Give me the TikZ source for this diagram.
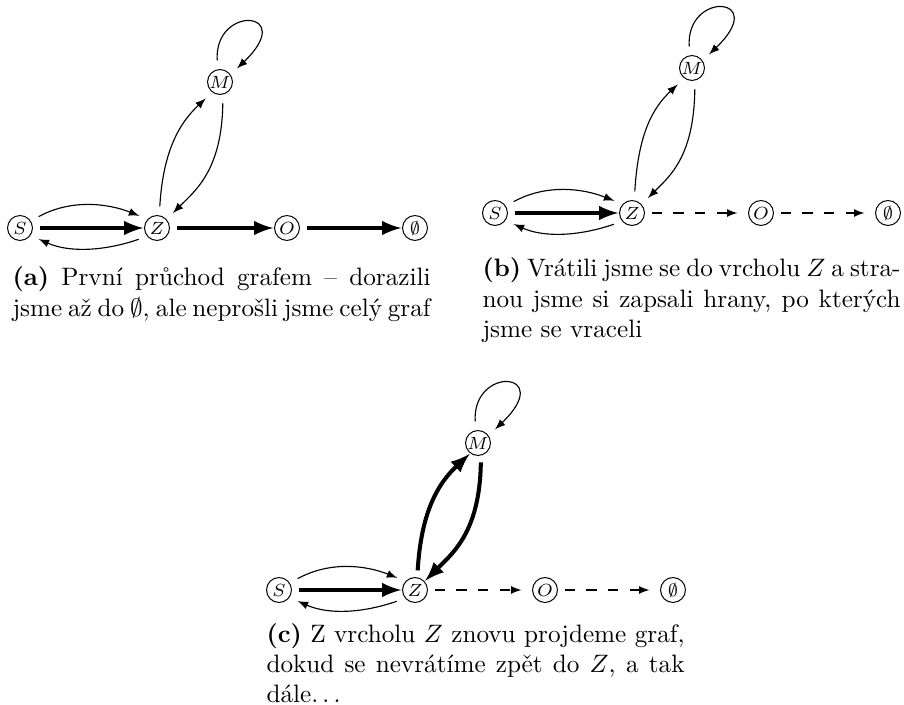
\documentclass[tikz,border=0pt]{standalone}
\usepackage{fontspec}
\begin{document}
\begin{tikzpicture}[x=0.397pt, y=-0.397pt]
\tikzset{
  vertex/.style={circle, draw, line width=0.4pt, minimum size=9.9pt, inner sep=0pt,
    font=\fontsize{6.8}{7.5}\selectfont},
  thinedge/.style={->, >=latex, line width=0.45pt, shorten <=3.5pt, shorten >=3.5pt},
  thickedge/.style={->, >=latex, line width=1.6pt, shorten <=2.7pt, shorten >=0.3pt},
  dashedge/.style={->, >=latex, line width=0.45pt, dash pattern=on 4pt off 4.6pt,
    shorten <=2.7pt, shorten >=4.2pt},
  caption/.style={anchor=base west, inner sep=0pt, text width=166pt, align=justify,
    font=\normalsize},
}
% spaced ellipsis, three dots with interword-stretch kerns
\newcommand{\spaceddots}{.\kern\fontdimen3\font.\kern\fontdimen3\font.}
\useasboundingbox (0,0) rectangle (904,705);

% ---- (a) first pass through the graph
\node[vertex] (Sa) at (20,228) {$S$};
\node[vertex] (Za) at (157,228) {$Z$};
\node[vertex] (Oa) at (287,228) {$O$};
\node[vertex] (Ea) at (415,228) {$\emptyset$};
\node[vertex] (Ma) at (220,82) {$M$};
\draw[thickedge] (Sa) -- (Za);
\draw[thickedge] (Za) -- (Oa);
\draw[thickedge] (Oa) -- (Ea);
\draw[thinedge] (Sa.33) .. controls +(40,-22) and +(-40,-16) .. (Za.137);
\draw[thinedge] (Za.220) .. controls +(-40,14) and +(40,18) .. (Sa.325);
\draw[thinedge] (Za.80) .. controls +(4,-66) and +(-32,30) .. (Ma.233);
\draw[thinedge] (Ma.283) .. controls +(-1,76) and +(28,-28) .. (Za.42);
\draw[thinedge] (Ma.100) .. controls +(-4,-65) and +(68,-65) .. (Ma.35);
\node[caption] (capa) at (12,286) {\textbf{(a)} První průchod grafem – dorazili\linebreak
  jsme až do $\emptyset$, ale neprošli jsme celý graf};

% ---- (b) back at Z, edges walked back are remembered
\node[vertex] (Sb) at (495,213) {$S$};
\node[vertex] (Zb) at (632,213) {$Z$};
\node[vertex] (Ob) at (761,213) {$O$};
\node[vertex] (Eb) at (888,213) {$\emptyset$};
\node[vertex] (Mb) at (692,68) {$M$};
\draw[thickedge] (Sb) -- (Zb);
\draw[dashedge] (Zb) -- (Ob);
\draw[dashedge] (Ob) -- (Eb);
\draw[thinedge] (Sb.33) .. controls +(40,-22) and +(-40,-16) .. (Zb.137);
\draw[thinedge] (Zb.220) .. controls +(-40,14) and +(40,18) .. (Sb.325);
\draw[thinedge] (Zb.80) .. controls +(4,-66) and +(-32,30) .. (Mb.233);
\draw[thinedge] (Mb.283) .. controls +(-1,76) and +(28,-28) .. (Zb.42);
\draw[thinedge] (Mb.100) .. controls +(-4,-65) and +(68,-65) .. (Mb.35);
\node[caption] (capb) at (482,277) {\textbf{(b)} Vrátili jsme se do vrcholu $Z$ a stra-\linebreak
  nou jsme si zapsali hrany, po kterých\linebreak jsme se vraceli};

% ---- (c) walking again from Z
\node[vertex] (Sc) at (279,590) {$S$};
\node[vertex] (Zc) at (415,590) {$Z$};
\node[vertex] (Oc) at (545,590) {$O$};
\node[vertex] (Ec) at (673,590) {$\emptyset$};
\node[vertex] (Mc) at (478,443) {$M$};
\draw[thickedge] (Sc) -- (Zc);
\draw[dashedge] (Zc) -- (Oc);
\draw[dashedge] (Oc) -- (Ec);
\draw[thinedge] (Sc.33) .. controls +(40,-22) and +(-40,-16) .. (Zc.137);
\draw[thinedge] (Zc.220) .. controls +(-40,14) and +(40,18) .. (Sc.325);
\draw[thickedge] (Zc.80) .. controls +(4,-66) and +(-32,30) .. (Mc.233);
\draw[thickedge] (Mc.283) .. controls +(-1,76) and +(28,-28) .. (Zc.42);
\draw[thinedge] (Mc.100) .. controls +(-4,-65) and +(68,-65) .. (Mc.35);
\node[caption] (capc) at (266,642) {\textbf{(c)} Z vrcholu $Z$ znovu projdeme graf,\linebreak
  dokud se nevrátíme zpět do $Z$, a tak\linebreak dále\spaceddots};
\end{tikzpicture}
\end{document}
